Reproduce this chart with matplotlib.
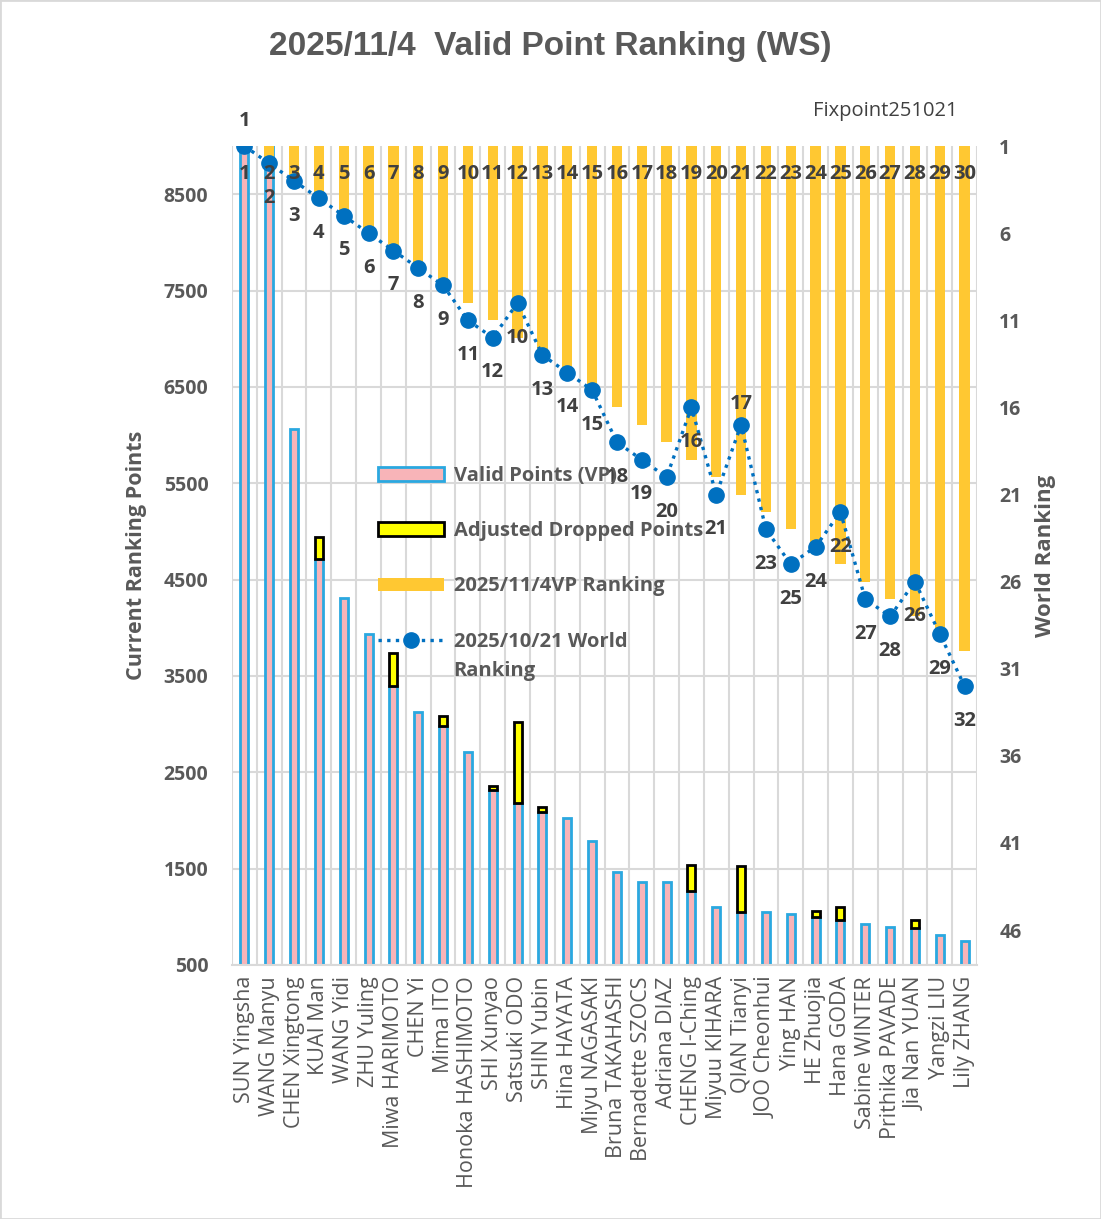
import numpy as np
import matplotlib
matplotlib.use("Agg")
import matplotlib.pyplot as plt
from matplotlib.patches import Patch, Rectangle
from matplotlib.lines import Line2D

# data
players = ["SUN Yingsha", "WANG Manyu", "CHEN Xingtong", "KUAI Man", "WANG Yidi",
           "ZHU Yuling", "Miwa HARIMOTO", "CHEN Yi", "Mima ITO", "Honoka HASHIMOTO",
           "SHI Xunyao", "Satsuki ODO", "SHIN Yubin", "Hina HAYATA", "Miyu NAGASAKI",
           "Bruna TAKAHASHI", "Bernadette SZOCS", "Adriana DIAZ", "CHENG I-Ching", "Miyuu KIHARA",
           "QIAN Tianyi", "JOO Cheonhui", "Ying HAN", "HE Zhuojia", "Hana GODA",
           "Sabine WINTER", "Prithika PAVADE", "Jia Nan YUAN", "Yangzi LIU", "Lily ZHANG"]

valid_points = [9450, 9100, 6065, 4718, 4313, 3940, 3391, 3122, 2977, 2707,
                2313, 2179, 2085, 2023, 1785, 1464, 1360, 1360, 1267, 1101,
                1049, 1049, 1028, 997, 966, 925, 894, 883, 811, 749]

dropped_points = [0, 0, 0, 228, 0, 0, 352, 0, 103, 0,
                  42, 839, 52, 0, 0, 0, 0, 0, 269, 0,
                  477, 0, 0, 63, 135, 0, 0, 83, 0, 0]

vp_rank = list(range(1, 31))

world_rank = [1, 2, 3, 4, 5, 6, 7, 8, 9, 11,
              12, 10, 13, 14, 15, 18, 19, 20, 16, 21,
              17, 23, 25, 24, 22, 27, 28, 26, 29, 32]

label_above = ["SUN Yingsha", "QIAN Tianyi"]

GRAY = "#595959"
DARK = "#404040"
GRID = "#D9D9D9"
PINK = "#F8B4B8"
SKY = "#2AA8E0"
YELLOW = "#FFFF00"
ORANGE = "#FFC832"
BLUE = "#0070C0"

plt.rcParams["font.family"] = ["Open Sans", "DejaVu Sans"]

fig = plt.figure(figsize=(11.01, 12.19), dpi=100)
ax = fig.add_axes([0.2107, 0.2084, 0.6767, 0.6718])
ax2 = ax.twinx()

x = np.arange(len(players))
vp = np.array(valid_points)
dp = np.array(dropped_points)
has_drop = dp > 0

# left axis: points
ax.bar(x, vp, width=0.32, color=PINK, edgecolor=SKY, linewidth=2, zorder=2)
ax.bar(x[has_drop], dp[has_drop], width=0.32, bottom=vp[has_drop], color=YELLOW,
       edgecolor="black", linewidth=2, zorder=2)
ax.set_ylim(500, 9000)
ax.set_yticks(np.arange(500, 9000, 1000))
ax.set_xlim(-0.5, len(players) - 0.5)
ax.set_xticks(x)
ax.set_xticklabels(players, rotation=90, fontsize=15.5, color=GRAY)
ax.set_xticks(np.arange(-0.5, len(players), 1), minor=True)
ax.tick_params(axis="x", which="both", length=0, pad=8)
ax.tick_params(axis="y", length=0, labelsize=14, labelcolor=GRAY, pad=17)
for lab in ax.get_yticklabels():
    lab.set_fontweight("bold")
ax.set_axisbelow(True)
ax.grid(axis="y", which="major", color=GRID, linewidth=1.5)
ax.grid(axis="x", which="minor", color=GRID, linewidth=1.5)
for s in ["top", "left", "right"]:
    ax.spines[s].set_visible(False)
ax.spines["bottom"].set_color(GRID)
ax.spines["bottom"].set_linewidth(1.5)
ax.set_ylabel("Current Ranking Points", fontsize=15.5, fontweight="bold", color=GRAY, labelpad=12)

# right axis: rankings (inverted)
ax2.bar(x, np.array(vp_rank) - 1, bottom=1, width=0.42, color=ORANGE, zorder=2)
ax2.plot(x, world_rank, linestyle=(0, (1, 1.6)), linewidth=2.4, color=BLUE,
         marker="o", markersize=11, zorder=3)
ax2.set_ylim(48, 1)
ax2.set_yticks(np.arange(1, 47, 5))
ax2.tick_params(axis="y", length=0, labelsize=14, labelcolor=GRAY, pad=16)
for lab in ax2.get_yticklabels():
    lab.set_fontweight("bold")
for s in ["top", "left", "right", "bottom"]:
    ax2.spines[s].set_visible(False)
ax2.set_ylabel("World Ranking", fontsize=16, fontweight="bold", color=GRAY, labelpad=10)

# labels on the ranking bars, near the top
for xi, r in zip(x, vp_rank):
    ax2.text(xi, 2.6, str(r), ha="center", va="center", fontsize=14.5,
             fontweight="bold", color=DARK, zorder=4)

# labels on the world ranking line
for xi, r, name in zip(x, world_rank, players):
    dy = 18 if name in label_above else -25
    if name == "QIAN Tianyi":
        dy = 15
    ax2.annotate(str(r), (xi, r), xytext=(0, dy), textcoords="offset points",
                 ha="center", va="center", fontsize=14.5, fontweight="bold",
                 color=DARK, zorder=4)

handles = [
    Patch(facecolor=PINK, edgecolor=SKY, linewidth=2),
    Patch(facecolor=YELLOW, edgecolor="black", linewidth=2),
    Patch(facecolor=ORANGE, edgecolor="none"),
    Line2D([], [], linestyle=(0, (1, 1.6)), linewidth=2.4, color=BLUE,
           marker="o", markersize=11),
]
labels = ["Valid Points (VP)", "Adjusted Dropped Points", "2025/11/4VP Ranking",
          "2025/10/21 World"]
leg = ax2.legend(handles, labels, loc="upper left", bbox_to_anchor=(378 / 1101, 1 - 466 / 1219),
                 bbox_transform=fig.transFigure, frameon=False, fontsize=14.5,
                 handlelength=3.3, handleheight=0.65, handletextpad=0.45,
                 labelspacing=1.75, borderpad=0, borderaxespad=0)
for t in leg.get_texts():
    t.set_color(GRAY)
    t.set_fontweight("bold")

# second line of the last legend entry, kept under the first line like the original
fig.canvas.draw()
last = leg.get_texts()[-1].get_window_extent()
fig.text(last.x0 / fig.bbox.width, (last.y0 + last.y1) / 2 / fig.bbox.height - 29 / 1219,
         "Ranking", ha="left", va="center", fontsize=14.5, fontweight="bold", color=GRAY)

fig.text(0.5, 1 - 46 / 1219, "2025/11/4  Valid Point Ranking (WS)", ha="center", va="center",
         fontsize=24, fontweight="bold", color=GRAY,
         family=["Liberation Sans Narrow", "Liberation Sans", "DejaVu Sans"])
fig.text(958 / 1101, 1 - 111 / 1219, "Fixpoint251021", ha="right", va="center",
         fontsize=14.5, color=DARK)

fig.patches.append(Rectangle((0, 0), 1, 1, transform=fig.transFigure, fill=False,
                             edgecolor=GRID, linewidth=2))

fig.savefig("out.png", dpi=100)
